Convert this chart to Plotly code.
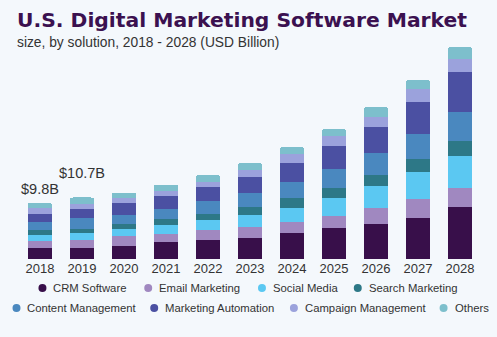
import plotly.graph_objects as go

# Market size by solution, USD billion
years = ["2018", "2019", "2020", "2021", "2022", "2023", "2024", "2025", "2026", "2027", "2028"]

crm_software = [1.90, 2.00, 2.31, 2.90, 3.25, 3.70, 4.47, 5.34, 6.14, 7.18, 8.99]
email_marketing = [1.30, 1.31, 1.69, 1.44, 1.74, 1.79, 2.03, 2.14, 2.73, 3.25, 3.43]
social_media = [1.02, 1.14, 1.17, 1.62, 1.79, 2.21, 2.38, 3.18, 3.83, 4.70, 5.57]
search_marketing = [0.89, 0.85, 0.99, 0.92, 1.10, 1.39, 1.79, 1.69, 1.86, 2.26, 2.56]
content_management = [1.25, 1.83, 1.57, 1.79, 2.21, 2.38, 2.73, 3.30, 3.83, 4.30, 5.10]
marketing_automation = [1.48, 1.59, 1.97, 2.31, 2.38, 2.83, 3.30, 4.00, 4.52, 5.57, 6.83]
campaign_management = [1.02, 0.90, 0.87, 0.87, 0.99, 1.22, 1.57, 1.74, 1.86, 2.26, 2.31]
others = [0.94, 1.08, 0.99, 1.10, 1.17, 1.22, 1.17, 1.22, 1.62, 1.62, 2.09]

series_names = ["CRM Software", "Email Marketing", "Social Media", "Search Marketing",
                "Content Management", "Marketing Automation", "Campaign Management", "Others"]
series_values = [crm_software, email_marketing, social_media, search_marketing,
                 content_management, marketing_automation, campaign_management, others]
series_colors = ["#380f4a", "#a088c0", "#5bc8f2", "#2d7887",
                 "#4a88bf", "#4b50a2", "#9ba2dc", "#7dbfcc"]

# Total labels shown above the first two bars
total_label_years = ["2018", "2019"]
total_label_text = ["$9.8B", "$10.7B"]
total_label_yshift = [14, 24]

# Legend layout (page pixels): dot centres per entry
legend_dot_x = [42, 148, 262, 358, 16, 154, 294, 444]
legend_row_y = [288, 288, 288, 288, 308, 308, 308, 308]

W, H = 497, 337
M_L, M_R, M_T, M_B = 18.5, 15.5, 40, 78
PLOT_W = W - M_L - M_R
PLOT_H = H - M_T - M_B
PX_PER_B = 5.75
Y_MAX = PLOT_H / PX_PER_B

BG = "#f4f8fc"
TEXT = "#333333"
FONT = "Liberation Sans, Arial, sans-serif"

fig = go.Figure()
for name, vals, col in zip(series_names, series_values, series_colors):
    fig.add_trace(go.Bar(
        x=years, y=vals, name=name,
        marker=dict(color=col, line=dict(width=0)),
        showlegend=False, hoverinfo="skip",
    ))

totals = [round(sum(v[i] for v in series_values), 2) for i in range(len(years))]
for yr, txt, ys in zip(total_label_years, total_label_text, total_label_yshift):
    i = years.index(yr)
    fig.add_annotation(
        x=i, y=totals[i], text=txt, showarrow=False,
        xanchor="center", yanchor="middle", yshift=ys,
        font=dict(family=FONT, size=14.5, color=TEXT),
    )


def px_to_paper_x(px):
    return (px - M_L) / PLOT_W


def px_to_paper_y(py):
    return (H - M_B - py) / PLOT_H


# Legend: round dots with labels in two rows
for name, col, dx, dy in zip(series_names, series_colors, legend_dot_x, legend_row_y):
    r = 4
    fig.add_shape(
        type="circle", xref="paper", yref="paper",
        x0=px_to_paper_x(dx - r), x1=px_to_paper_x(dx + r),
        y0=px_to_paper_y(dy + r), y1=px_to_paper_y(dy - r),
        fillcolor=col, line=dict(width=0),
    )
    fig.add_annotation(
        xref="paper", yref="paper",
        x=px_to_paper_x(dx + 9), y=px_to_paper_y(dy),
        text=name, showarrow=False, xanchor="left", yanchor="middle",
        font=dict(family=FONT, size=11.3, color=TEXT),
    )

# Title and subtitle
fig.add_annotation(
    xref="paper", yref="paper", x=px_to_paper_x(14), y=px_to_paper_y(20),
    text="<b>U.S. Digital Marketing Software Market</b>", showarrow=False,
    xanchor="left", yanchor="middle",
    font=dict(family="DejaVu Sans, sans-serif", size=20.3, color="#3b1150"),
)
fig.add_annotation(
    xref="paper", yref="paper", x=px_to_paper_x(14), y=px_to_paper_y(42),
    text="size, by solution, 2018 - 2028 (USD Billion)", showarrow=False,
    xanchor="left", yanchor="middle",
    font=dict(family=FONT, size=13.8, color=TEXT),
)

fig.update_layout(
    width=W, height=H,
    margin=dict(l=M_L, r=M_R, t=M_T, b=M_B, pad=0),
    paper_bgcolor=BG, plot_bgcolor=BG,
    barmode="stack", bargap=0.42, barcornerradius=3,
    showlegend=False,
    xaxis=dict(
        type="category", range=[-0.5, len(years) - 0.5],
        showgrid=False, zeroline=False, showline=False, ticks="",
        tickfont=dict(family=FONT, size=13, color=TEXT),
    ),
    yaxis=dict(range=[0, Y_MAX], visible=False, showgrid=False, zeroline=False),
)

fig.write_html("out.html")
